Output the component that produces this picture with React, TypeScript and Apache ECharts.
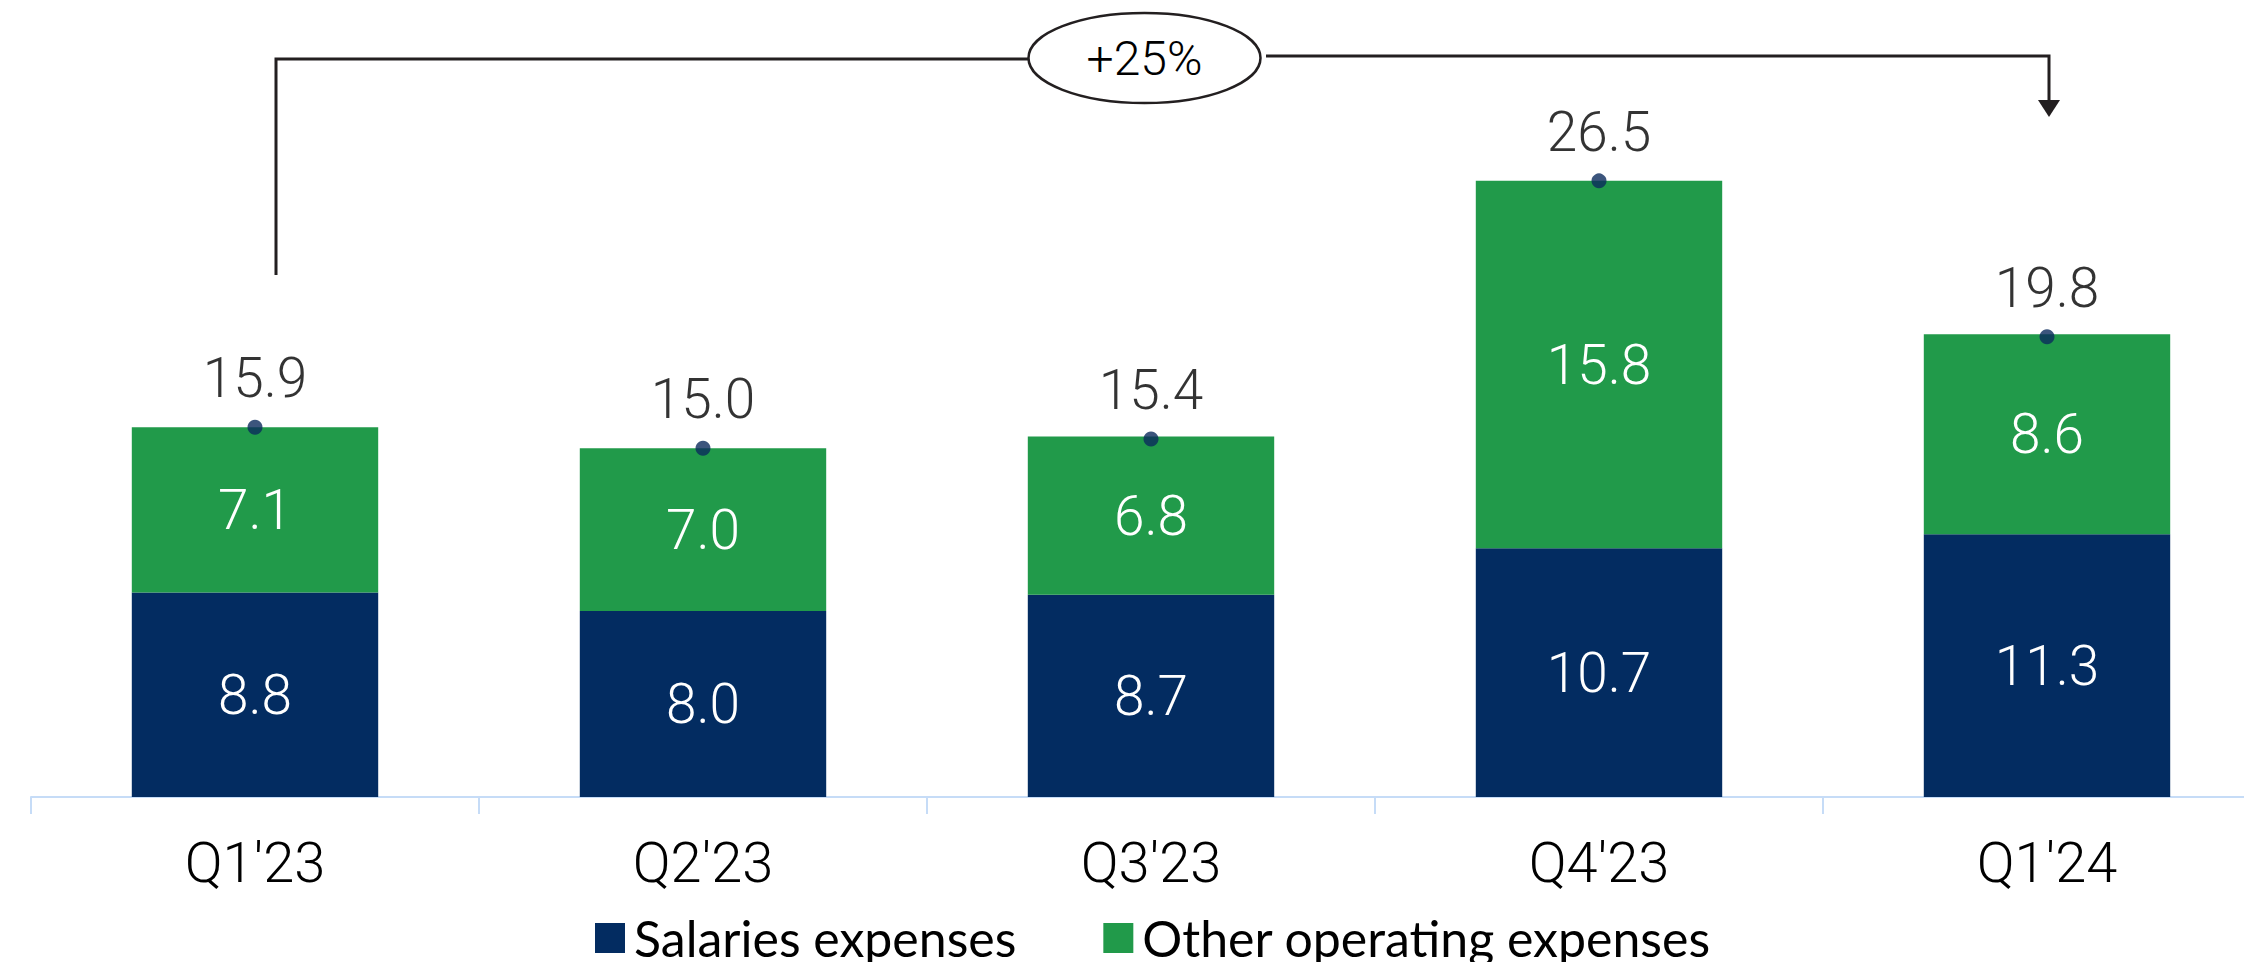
import React, { useEffect, useRef } from "react";
import * as echarts from "echarts";

const categories = ["Q1'23", "Q2'23", "Q3'23", "Q4'23", "Q1'24"];
const salaries = [8.8, 8.0, 8.7, 10.7, 11.3];
const otherOpex = [7.1, 7.0, 6.8, 15.8, 8.6];
const totals = [15.9, 15.0, 15.4, 26.5, 19.8];
const growthLabel = "+25%";

const NAVY = "#032C61";
const GREEN = "#219A4A";
const AXIS = "#C6DCF7";
const INK = "#231F20";
const FONT = "'Roboto Light', Roboto, 'Liberation Sans', sans-serif";

export default function App() {
  const ref = useRef<HTMLDivElement>(null);
  useEffect(() => {
    if (!ref.current) return;
    const chart = echarts.init(ref.current, null, { renderer: "svg" });
    const valueLabel = {
      show: true,
      position: "inside",
      color: "#FFFFFF",
      fontFamily: FONT,
      fontWeight: 300,
      fontSize: 55,
      formatter: (p: any) => Number(p.value).toFixed(1),
    };
    chart.setOption({
      animation: false,
      backgroundColor: "#FFFFFF",
      grid: { left: 31, right: 9, top: 99.5, bottom: 165, containLabel: false },
      legend: {
        data: ["Salaries expenses", "Other operating expenses"],
        left: 595,
        top: 913,
        padding: 0,
        icon: "rect",
        itemWidth: 30,
        itemHeight: 30,
        itemGap: 87,
        textStyle: {
          fontFamily: "Lato",
          fontSize: 50,
          color: "#000000",
          lineHeight: 50,
          padding: [0, 0, 0, 4],
        },
      },
      xAxis: {
        type: "category",
        data: categories,
        axisLine: { show: true, lineStyle: { color: AXIS, width: 2 } },
        axisTick: { show: true, length: 17, lineStyle: { color: AXIS, width: 2 } },
        axisLabel: {
          margin: 38,
          color: "#000000",
          fontFamily: FONT,
          fontWeight: 300,
          fontSize: 56,
          lineHeight: 56,
        },
      },
      yAxis: {
        type: "value",
        min: 0,
        max: 30,
        show: false,
        splitLine: { show: false },
      },
      series: [
        {
          name: "Salaries expenses",
          type: "bar",
          stack: "total",
          barWidth: "55%",
          data: salaries,
          itemStyle: { color: NAVY },
          label: valueLabel,
        },
        {
          name: "Other operating expenses",
          type: "bar",
          stack: "total",
          barWidth: "55%",
          data: otherOpex,
          itemStyle: { color: GREEN },
          label: valueLabel,
        },
        {
          name: "Total",
          type: "scatter",
          data: totals,
          symbol: "circle",
          symbolSize: 15,
          z: 5,
          itemStyle: { color: "#0B2B5C" },
          label: {
            show: true,
            position: "top",
            distance: 14,
            color: "#000000",
            fontFamily: FONT,
            fontWeight: 300,
            fontSize: 55,
            formatter: (p: any) => Number(p.value).toFixed(1),
          },
        },
      ],
      graphic: [
        {
          type: "polyline",
          shape: { points: [[276, 275], [276, 59], [1028, 59]] },
          style: { stroke: INK, lineWidth: 3, fill: null },
        },
        {
          type: "polyline",
          shape: { points: [[1266, 56], [2049, 56], [2049, 102]] },
          style: { stroke: INK, lineWidth: 3, fill: null },
        },
        {
          type: "polygon",
          shape: { points: [[2038, 100], [2060, 100], [2049, 117]] },
          style: { fill: INK },
        },
        {
          type: "ellipse",
          shape: { cx: 1144.5, cy: 58, rx: 116, ry: 45 },
          style: { stroke: INK, lineWidth: 2.5, fill: "#FFFFFF" },
        },
        {
          type: "text",
          x: 1144.5,
          y: 58,
          style: {
            text: growthLabel,
            fontFamily: FONT,
            fontWeight: 300,
            fontSize: 48,
            fill: "#000000",
            align: "center",
            verticalAlign: "middle",
          },
        },
      ],
    });
    return () => chart.dispose();
  }, []);
  return (
    <div
      ref={ref}
      style={{ position: "fixed", left: 0, top: 0, width: 2280, height: 962, background: "#fff" }}
    />
  );
}
